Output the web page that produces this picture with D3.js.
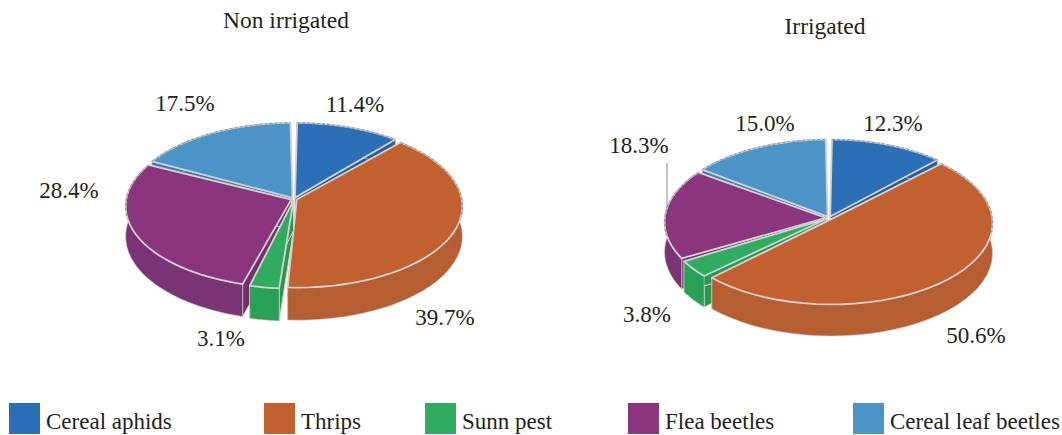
<!DOCTYPE html>
<html>
<head>
<meta charset="utf-8">
<script src="https://cdn.jsdelivr.net/npm/d3@7"></script>
<style>
  html, body { margin: 0; padding: 0; background: #fff; }
  text { font-family: "Liberation Serif", serif; fill: #231f20; }
</style>
</head>
<body>
<svg id="chart" width="1062" height="435"></svg>
<script>
const categories = ["Cereal aphids", "Thrips", "Sunn pest", "Flea beetles", "Cereal leaf beetles"];
const nonIrrigated = [11.4, 39.7, 3.1, 28.4, 17.5];
const irrigated = [12.3, 50.6, 3.8, 18.3, 15.0];
const colors = ["#2b70b7", "#c26030", "#2fac60", "#8a357e", "#4a94c8"];
const sideColors = ["#245f9c", "#b55e31", "#28a056", "#7a3374", "#3f80ad"];

const svg = d3.select("#chart");

const color = d3.scaleOrdinal().domain(categories).range(colors);
const sideColor = d3.scaleOrdinal().domain(categories).range(sideColors);
const pieGen = d3.pie().sort(null).value(d => d.value);
const line = d3.line();

function drawPie(values, o) {
  const g = svg.append("g");

  // perspective: v runs from back (-1) to front (1) of the disc
  const proj = (a, r, ex, ey, z) => {
    const u = Math.sin(a) * r + ex, v = -Math.cos(a) * r + ey;
    const s = 1 / (1 - o.p * v);
    return [o.cx + o.rx * u * s, o.cy + o.a * v * s + z * s];
  };
  const arcPts = (a0, a1, ex, ey, z) =>
    d3.range(0, 41).map(i => proj(a0 + (a1 - a0) * i / 40, 1, ex, ey, z));

  const slices = pieGen(values.map((v, i) => ({ name: categories[i], value: v })));
  slices.forEach(d => {
    d.mid = (d.startAngle + d.endAngle) / 2;
    d.ex = Math.sin(d.mid) * o.explode;
    d.ey = -Math.cos(d.mid) * o.explode;
  });
  slices.sort((a, b) => -Math.cos(a.mid) + Math.cos(b.mid));

  slices.forEach(d => {
    const a0 = d.startAngle + o.trim, a1 = d.endAngle - o.trim;
    const c = d.data.name;
    const top0 = proj(0, 0, d.ex, d.ey, 0), bot0 = proj(0, 0, d.ex, d.ey, o.depth);

    // radial cut walls
    [a0, a1].forEach(a => {
      g.append("path")
        .attr("d", line([top0, proj(a, 1, d.ex, d.ey, 0), proj(a, 1, d.ex, d.ey, o.depth), bot0]) + "Z")
        .attr("fill", d3.color(sideColor(c)).darker(0.15))
        .attr("stroke", "#d9d4d0").attr("stroke-width", 1);
    });

    // outer wall
    const upper = arcPts(a0, a1, d.ex, d.ey, 0);
    const lower = arcPts(a0, a1, d.ex, d.ey, o.depth);
    g.append("path")
      .attr("d", line(upper.concat(lower.reverse())) + "Z")
      .attr("fill", sideColor(c))
      .attr("stroke", "#cfc9c5").attr("stroke-width", 0.6);

    // top face
    g.append("path")
      .attr("d", line([top0].concat(upper)) + "Z")
      .attr("fill", color(c))
      .attr("stroke", "#d3d0d0").attr("stroke-width", 1.8)
      .attr("stroke-linejoin", "round");

    // dark fuzz on the back rim
    g.append("path")
      .attr("d", line(upper.filter(p => p[1] < o.cy + 20)))
      .attr("fill", "none").attr("stroke", "#444")
      .attr("stroke-width", 0.8).attr("stroke-opacity", 0.55)
      .attr("stroke-dasharray", "3 2");
  });

  // title and value labels
  svg.append("text").attr("x", o.titleX).attr("y", o.titleY)
    .attr("text-anchor", "middle").attr("font-size", 23.5).text(o.title);
  values.forEach((v, i) => {
    svg.append("text")
      .attr("x", o.labels[i][0]).attr("y", o.labels[i][1])
      .attr("text-anchor", "middle").attr("font-size", 23)
      .text(v.toFixed(1) + "%");
  });
}

drawPie(nonIrrigated, {
  cx: 294, cy: 199, rx: 165, a: 81, p: 0.079, depth: 30, explode: 0.018, trim: 0.014,
  title: "Non irrigated", titleX: 286, titleY: 28,
  labels: [[355, 112], [445, 325], [221, 346], [69, 198], [185, 111]]
});

drawPie(irrigated, {
  cx: 829, cy: 218, rx: 161, a: 81, p: 0.049, depth: 30, explode: 0.02, trim: 0.012,
  title: "Irrigated", titleX: 825, titleY: 34,
  labels: [[893, 131], [976, 343], [647, 322], [639, 153], [765, 131]]
});

// leader line for the small Flea beetles label
svg.append("line")
  .attr("x1", 667).attr("x2", 667).attr("y1", 163).attr("y2", 208)
  .attr("stroke", "#8a8a8a").attr("stroke-width", 1);

// legend
const legendX = d3.scaleOrdinal().domain(categories).range([9, 264, 425, 628, 853]);
const legend = svg.selectAll(".legend").data(categories).enter().append("g")
  .attr("class", "legend")
  .attr("transform", d => "translate(" + legendX(d) + ",403)");
legend.append("rect").attr("width", 31).attr("height", 31).attr("fill", d => color(d));
legend.append("text").attr("x", 37).attr("y", 26).attr("font-size", 23).text(d => d);
</script>
</body>
</html>
